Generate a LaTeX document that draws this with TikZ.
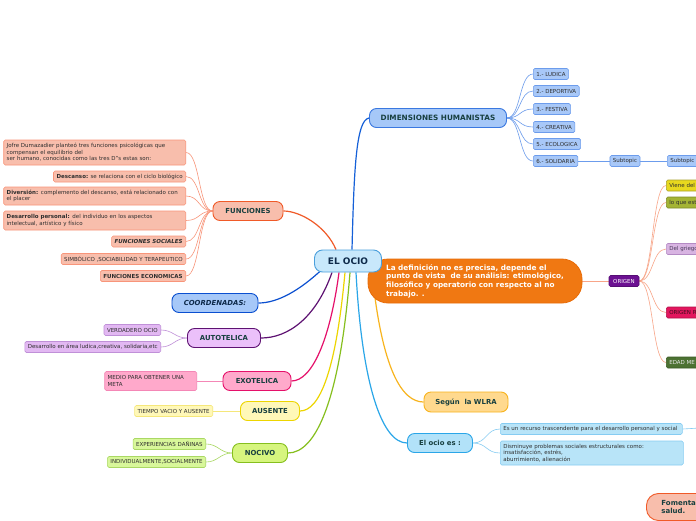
\documentclass[tikz,border=0pt]{standalone}
\usepackage{fontspec}
\setmainfont{DejaVu Sans}
\usetikzlibrary{calc}

\definecolor{ocioFill}{HTML}{C8E8FB}
\definecolor{ocioLine}{HTML}{4A9FDC}
\definecolor{dimFill}{HTML}{A6C8F8}
\definecolor{dimLine}{HTML}{3A78E0}
\definecolor{dimWire}{HTML}{1560D8}
\definecolor{leafBlue}{HTML}{A8C8F8}
\definecolor{leafBlueLine}{HTML}{6C9CEC}
\definecolor{funFill}{HTML}{F8BEAC}
\definecolor{funLine}{HTML}{F05A28}
\definecolor{funLeafLine}{HTML}{F8957A}
\definecolor{coorLine}{HTML}{0A4FD0}
\definecolor{autoFill}{HTML}{EBC0FA}
\definecolor{autoLine}{HTML}{5E1272}
\definecolor{autoLeaf}{HTML}{E2B8F2}
\definecolor{autoLeafLine}{HTML}{C090D8}
\definecolor{exoFill}{HTML}{FFA9CB}
\definecolor{exoLine}{HTML}{E5106A}
\definecolor{exoLeafLine}{HTML}{F487B6}
\definecolor{ausFill}{HTML}{FFF8B8}
\definecolor{ausLine}{HTML}{EDD500}
\definecolor{ausLeafLine}{HTML}{F5E77A}
\definecolor{nocFill}{HTML}{D6F57E}
\definecolor{nocLine}{HTML}{86BF1E}
\definecolor{nocLeaf}{HTML}{D8F79A}
\definecolor{nocLeafLine}{HTML}{AAD864}
\definecolor{defFill}{HTML}{F07812}
\definecolor{defLine}{HTML}{E86C08}
\definecolor{oriFill}{HTML}{6C1192}
\definecolor{oriWire}{HTML}{F8A588}
\definecolor{oneFill}{HTML}{E8D81E}
\definecolor{oneLine}{HTML}{A8A02A}
\definecolor{twoFill}{HTML}{A4B434}
\definecolor{twoLine}{HTML}{7E8A26}
\definecolor{threeFill}{HTML}{D8B4E2}
\definecolor{threeLine}{HTML}{B48AC4}
\definecolor{threeText}{HTML}{4A3A5A}
\definecolor{fourFill}{HTML}{E3165E}
\definecolor{fourLine}{HTML}{B01048}
\definecolor{fourText}{HTML}{3A0A1A}
\definecolor{fiveFill}{HTML}{4C7232}
\definecolor{fiveLine}{HTML}{3A5A24}
\definecolor{fiveText}{HTML}{E8E8E8}
\definecolor{wlraFill}{HTML}{FFD98E}
\definecolor{wlraLine}{HTML}{F8B41E}
\definecolor{esFill}{HTML}{B2E2F9}
\definecolor{esLine}{HTML}{2AA6E8}
\definecolor{esLeaf}{HTML}{B8E4F8}
\definecolor{esLeafLine}{HTML}{86CCF2}
\definecolor{textDark}{HTML}{173F3F}
\definecolor{textNavy}{HTML}{0E2A4A}
\definecolor{textLeaf}{HTML}{2E2E2E}

\pgfdeclarelayer{background}
\pgfsetlayers{background,main}

\tikzset{
  topic/.style={draw, line width=0.9pt, rounded corners=7pt, minimum height=19pt,
    inner xsep=4pt, font=\fontsize{6.9}{8}\selectfont\bfseries, text=textDark},
  leaf/.style={draw, line width=0.6pt, rounded corners=1.5pt, minimum height=11pt,
    inner xsep=3pt, inner ysep=1pt, font=\fontsize{5.5}{6.6}\selectfont, text=textLeaf},
  wire/.style={line width=1.2pt},
  twig/.style={line width=0.6pt},
}

\begin{document}
\begin{tikzpicture}[x=1pt,y=-1pt]
\useasboundingbox (0,0) rectangle (696,520);

% centre and definition
\node[draw=defLine, fill=defFill, line width=0.8pt, rounded corners=20pt,
      minimum width=214pt, minimum height=44pt, inner xsep=4pt,
      align=left, text=white, font=\fontsize{7.3}{8.6}\selectfont\bfseries]
      (def) at (475,281) {La definición no es precisa, depende el\\punto de vista~ de su análisis: etimológico,\\filosófico y operatorio con respecto al no\\trabajo. .};
\node[topic, fill=ocioFill, draw=ocioLine, minimum width=67pt, minimum height=22pt,
      rounded corners=8pt, font=\fontsize{9}{10}\selectfont\bfseries, text=textNavy]
      (ocio) at (348,261) {EL OCIO};

% dimensiones
\node[topic, fill=dimFill, draw=dimLine, minimum width=137pt, font=\fontsize{7.3}{8}\selectfont\bfseries] (dim) at (438,118) {DIMENSIONES HUMANISTAS};
\node[leaf, fill=leafBlue, draw=leafBlueLine, anchor=west] (lud) at (533,74)  {1.- LUDICA};
\node[leaf, fill=leafBlue, draw=leafBlueLine, anchor=west] (dep) at (533,91)  {2.- DEPORTIVA};
\node[leaf, fill=leafBlue, draw=leafBlueLine, anchor=west] (fes) at (533,109) {3.- FESTIVA};
\node[leaf, fill=leafBlue, draw=leafBlueLine, anchor=west] (cre) at (533,127) {4.- CREATIVA};
\node[leaf, fill=leafBlue, draw=leafBlueLine, anchor=west] (eco) at (533,144) {5.- ECOLOGICA};
\node[leaf, fill=leafBlue, draw=leafBlueLine, anchor=west] (sol) at (533,161) {6.- SOLIDARIA};
\node[leaf, fill=leafBlue, draw=leafBlueLine] (sub1) at (625,161) {Subtopic};
\node[leaf, fill=leafBlue, draw=leafBlueLine, anchor=west] (sub2) at (667,161) {Subtopic};

% funciones
\node[topic, fill=funFill, draw=funLine, minimum width=70pt] (fun) at (248,211) {FUNCIONES};
\node[leaf, fill=funFill, draw=funLeafLine, anchor=east, text width=176pt, align=left,
      minimum height=25pt] (f1) at (186,152.5)
      {Jofre Dumazadier planteó tres funciones psicológicas que\\compensan el equilibrio del\\ser humano, conocidas como las tres D"s estas son:};
\node[leaf, fill=funFill, draw=funLeafLine, anchor=east] (f2) at (186,176.5)
      {\textbf{Descanso:} se relaciona con el ciclo biológico};
\node[leaf, fill=funFill, draw=funLeafLine, anchor=east, text width=176pt, align=left,
      minimum height=18pt] (f3) at (186,196)
      {\textbf{Diversión:} complemento del descanso, está relacionado con\\el placer};
\node[leaf, fill=funFill, draw=funLeafLine, anchor=east, text width=176pt, align=left,
      minimum height=19pt] (f4) at (186,220.5)
      {\textbf{Desarrollo personal:} del individuo en los aspectos\\intelectual, artístico y físico};
\node[leaf, fill=funFill, draw=funLeafLine, anchor=east] (f5) at (186,241.5) {\textbf{\textit{FUNCIONES SOCIALES}}};
\node[leaf, fill=funFill, draw=funLeafLine, anchor=east] (f6) at (186,259)   {SIMBÓLICO ,SOCIABILIDAD Y TERAPEUTICO};
\node[leaf, fill=funFill, draw=funLeafLine, anchor=east] (f7) at (186,276)   {\textbf{FUNCIONES ECONOMICAS}};

% left branches
\node[topic, fill=dimFill, draw=coorLine, minimum width=86pt, font=\fontsize{6.9}{8}\selectfont\bfseries\itshape,
      text=textNavy] (coor) at (215,303) {COORDENADAS:};
\node[topic, fill=autoFill, draw=autoLine, minimum width=73pt] (auto) at (224,338) {AUTOTELICA};
\node[leaf, fill=autoLeaf, draw=autoLeafLine, anchor=east] (a1) at (161,330) {VERDADERO OCIO};
\node[leaf, fill=autoLeaf, draw=autoLeafLine, anchor=east] (a2) at (161,347) {Desarrollo en área ludica,creativa, solidaria,etc};
\node[topic, fill=exoFill, draw=exoLine, minimum width=68pt] (exo) at (257,381) {EXOTELICA};
\node[leaf, fill=exoFill, draw=exoLeafLine, anchor=east, text width=86pt, align=left,
      minimum height=19pt] (e1) at (197,381) {MEDIO PARA OBTENER UNA\\META};
\node[topic, fill=ausFill, draw=ausLine, minimum width=59pt] (aus) at (270,411) {AUSENTE};
\node[leaf, fill=ausFill, draw=ausLeafLine, anchor=east] (u1) at (213,411) {TIEMPO VACIO Y AUSENTE};
\node[topic, fill=nocFill, draw=nocLine, minimum width=55pt] (noc) at (260,453) {NOCIVO};
\node[leaf, fill=nocLeaf, draw=nocLeafLine, anchor=east] (n1) at (206,444) {EXPERIENCIAS DAÑINAS};
\node[leaf, fill=nocLeaf, draw=nocLeafLine, anchor=east] (n2) at (206,462) {INDIVIDUALMENTE,SOCIALMENTE};

% origen
\node[leaf, fill=oriFill, draw=oriFill!80!black, text=white, minimum width=30pt] (ori) at (624,281) {ORIGEN};
\node[leaf, fill=oneFill, draw=oneLine, anchor=west, text width=50pt, align=left] (o1) at (666,185.5) {Viene del};
\node[leaf, fill=twoFill, draw=twoLine, anchor=west, text width=50pt, align=left] (o2) at (666,202.5) {lo que est};
\node[leaf, fill=threeFill, draw=threeLine, anchor=west, text width=50pt, align=left, text=threeText] (o3) at (666,249) {Del griego};
\node[leaf, fill=fourFill, draw=fourLine, anchor=west, text width=50pt, align=left, text=fourText] (o4) at (666,312.5) {ORIGEN R};
\node[leaf, fill=fiveFill, draw=fiveLine, anchor=west, text width=50pt, align=left, text=fiveText] (o5) at (666,362.5) {EDAD ME};

% right lower branches
\node[topic, fill=wlraFill, draw=wlraLine, minimum width=84pt, minimum height=20pt] (wlra) at (466,402) {Según~ la WLRA};
\node[topic, fill=esFill, draw=esLine, minimum width=65pt] (es) at (440,443) {El ocio es :};
\node[leaf, fill=esLeaf, draw=esLeafLine, anchor=west, text width=176pt, align=left] (s1) at (500,429)
      {Es un recurso trascendente para el desarrollo personal y social};
\node[leaf, fill=esLeaf, draw=esLeafLine, anchor=west, text width=177pt, align=left, minimum height=24pt] (s2) at (500,453)
      {Disminuye problemas sociales estructurales como:\\insatisfacción, estrés,\\aburrimiento, alienación};
\coordinate (s1out) at (700,428);
\node[topic, fill=funFill, draw=funLine, anchor=west, rounded corners=12pt, minimum height=27pt,
      inner xsep=15pt, text width=50pt, align=left, font=\fontsize{7}{7.8}\selectfont\bfseries] (fom) at (646,507) {Fomenta\\salud.};

\begin{pgfonlayer}{background}
\fill[white] (0,0) rectangle (696,520);
\draw[wire, dimWire]  ($(ocio.north)+(4,0)$)   .. controls (354,170) and (356,120) .. (dim.west);
\draw[wire, funLine]  ($(ocio.north)+(-12,0)$) .. controls (326,226) and (300,211) .. (fun.east);
\draw[wire, coorLine] ($(ocio.south)+(-26,-3)$) .. controls (300,290) and (278,303) .. (coor.east);
\draw[wire, autoLine] ($(ocio.south)+(-16,0)$) .. controls (316,318) and (288,338) .. (auto.east);
\draw[wire, exoLine]  ($(ocio.south)+(-9,0)$)  .. controls (330,340) and (312,381) .. (exo.east);
\draw[wire, ausLine]  ($(ocio.south)+(-3,0)$)  .. controls (336,370) and (320,411) .. (aus.east);
\draw[wire, nocLine]  ($(ocio.south)+(2,0)$)   .. controls (340,400) and (316,453) .. (noc.east);
\draw[wire, esLine]   ($(ocio.south)+(8,0)$)   .. controls (362,385) and (382,443) .. (es.west);
\draw[wire, wlraLine] ($(ocio.south)+(24,0)$)  .. controls (382,370) and (402,402) .. (wlra.west);

\foreach \c in {lud,dep,fes,cre,eco,sol}
  \draw[twig, leafBlueLine] (dim.east) .. controls +(14,0) and +(-14,0) .. (\c.west);
\draw[twig, leafBlueLine] (sol.east) -- (sub1.west);
\draw[twig, leafBlueLine] (sub1.east) -- (sub2.west);

\foreach \i in {1,...,7}
  \draw[twig, funLeafLine] (fun.west) .. controls +(-14,0) and +(14,0) .. (f\i.east);
\foreach \i in {1,2}
  \draw[twig, autoLeafLine] (auto.west) .. controls +(-12,0) and +(12,0) .. (a\i.east);
\draw[twig, exoLeafLine] (exo.west) -- (e1.east);
\draw[twig, ausLeafLine] (aus.west) -- (u1.east);
\foreach \i in {1,2}
  \draw[twig, nocLeafLine] (noc.west) .. controls +(-12,0) and +(12,0) .. (n\i.east);

\draw[twig, oriWire] (def.east) -- (ori.west);
\foreach \i in {1,...,5}
  \draw[twig, oriWire] (ori.east) .. controls +(14,0) and +(-14,0) .. (o\i.west);

\foreach \i in {1,2}
  \draw[twig, esLeafLine] (es.east) .. controls +(14,0) and +(-14,0) .. (s\i.west);
\draw[twig, esLeafLine] (s1.east) -- (s1out);
\end{pgfonlayer}

\end{tikzpicture}
\end{document}
